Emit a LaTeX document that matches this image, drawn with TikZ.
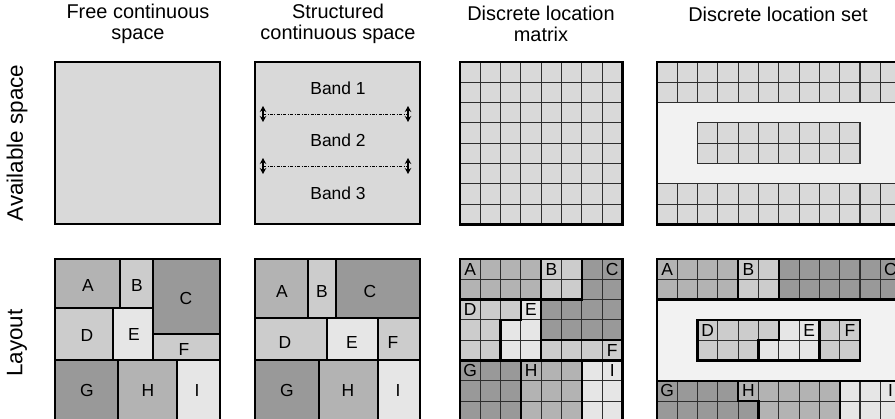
\documentclass[tikz,border=0pt]{standalone}
\usepackage{fontspec}
\setmainfont{Liberation Sans}
\usetikzlibrary{arrows.meta}
\definecolor{bg}{HTML}{D9D9D9}
\definecolor{pale}{HTML}{F2F2F2}
\definecolor{dk}{HTML}{999999}
\definecolor{md}{HTML}{B3B3B3}
\definecolor{lt}{HTML}{CCCCCC}
\definecolor{vl}{HTML}{E6E6E6}
\definecolor{gridc}{HTML}{2E2E2E}
\begin{document}
\begin{tikzpicture}[x=1bp,y=-1bp,
  hdr/.style={font=\fontsize{20}{20.5}\selectfont, align=center, inner sep=0pt},
  side/.style={font=\fontsize{22.5}{22.5}\selectfont, rotate=90, inner sep=0pt},
  lbl/.style={font=\fontsize{17.5}{17.5}\selectfont, inner sep=0pt},
  frame/.style={draw=black, line width=2.6bp},
  thinline/.style={draw=gridc, line width=1.15bp},
  region/.style={draw=black, line width=2.3bp, line join=miter},
  bandline/.style={draw=black, line width=0.8bp, dash pattern=on 3bp off 1.5bp on 0.8bp off 1.5bp},
  bandarrow/.style={draw=black, line width=1.2bp, {Stealth[length=6bp,width=6.5bp]}-{Stealth[length=6bp,width=6.5bp]}}
]
\useasboundingbox (0,0) rectangle (895,418);
\clip (0,0) rectangle (895,418);

% headers
\node[hdr] (h1) at (138,24) {Free continuous\\space};
\node[hdr] (h2) at (338,24) {Structured\\continuous space};
\node[hdr] (h3) at (541,24) {Discrete location\\matrix};
\node[hdr] (h4) at (778,14) {Discrete location set};
\node[side] (s1) at (17,143) {Available space};
\node[side] (s2) at (17,343) {Layout};

% ---------- top row ----------
% panel 1
\fill[bg] (55,62) rectangle (220,224);
\draw[frame] (55,62) rectangle (220,224);

% panel 2
\fill[bg] (255,62) rectangle (420,224);
\draw[frame] (255,62) rectangle (420,224);
\node[lbl] (band1) at (338,88) {Band 1};
\node[lbl] (band2) at (338,140) {Band 2};
\node[lbl] (band3) at (338,193) {Band 3};
\coordinate (d1l) at (263,114); \coordinate (d1r) at (408,114);
\coordinate (d2l) at (263,166); \coordinate (d2r) at (408,166);
\draw[bandline] (d1l) -- (d1r);
\draw[bandline] (d2l) -- (d2r);
\foreach \c in {d1l,d1r,d2l,d2r}{
  \draw[bandarrow] ([yshift=8bp]\c) -- ([yshift=-8bp]\c);
}

% panel 3
\begin{scope}[shift={(460,62)}, x=20.3bp, y=-20.3bp]
  \fill[bg] (0,0) rectangle (8,8);
  \foreach \i in {1,...,7}{
    \draw[thinline] (\i,0) -- (\i,8);
    \draw[thinline] (0,\i) -- (8,\i);
  }
  \draw[frame] (0,0) rectangle (8,8);
\end{scope}

% panel 4
\begin{scope}[shift={(657,62)}, x=20.3bp, y=-20.3bp]
  \fill[bg] (0,0) rectangle (12,2);
  \fill[pale] (0,2) rectangle (12,6);
  \fill[bg] (0,6) rectangle (12,8);
  \fill[bg] (2,3) rectangle (10,5);
  \foreach \i in {1,...,11}{
    \draw[thinline] (\i,0) -- (\i,2);
    \draw[thinline] (\i,6) -- (\i,8);
  }
  \foreach \i in {3,...,9}{
    \draw[thinline] (\i,3) -- (\i,5);
  }
  \draw[thinline] (0,1) -- (12,1);
  \draw[thinline] (0,2) -- (12,2);
  \draw[thinline] (0,6) -- (12,6);
  \draw[thinline] (0,7) -- (12,7);
  \draw[thinline] (2,4) -- (10,4);
  \draw[thinline] (2,3) rectangle (10,5);
  \draw[frame] (0,0) rectangle (12,8);
\end{scope}

% ---------- bottom row ----------
% layout 1
\filldraw[fill=md, region] (55,259) rectangle (120,308);
\filldraw[fill=lt, region] (120,259) rectangle (153,308);
\filldraw[fill=dk, region] (153,259) rectangle (220,334);
\filldraw[fill=lt, region] (55,308) rectangle (113,360);
\filldraw[fill=vl, region] (113,308) rectangle (153,360);
\filldraw[fill=lt, region] (153,334) rectangle (220,360);
\filldraw[fill=dk, region] (55,360) rectangle (118,421);
\filldraw[fill=md, region] (118,360) rectangle (177,421);
\filldraw[fill=vl, region] (177,360) rectangle (220,421);
\node[lbl] (a1) at (88,285) {A};
\node[lbl] (b1) at (137,285) {B};
\node[lbl] (c1) at (186,298) {C};
\node[lbl] (dd1) at (87,335) {D};
\node[lbl] (e1) at (134,334) {E};
\node[lbl] (f1) at (184,349) {F};
\node[lbl] (g1) at (87,390) {G};
\node[lbl] (hh1) at (148,390) {H};
\node[lbl] (i1) at (197,390) {I};

% layout 2
\filldraw[fill=md, region] (255,259) rectangle (308,318);
\filldraw[fill=lt, region] (308,259) rectangle (336,318);
\filldraw[fill=dk, region] (336,259) rectangle (420,318);
\filldraw[fill=lt, region] (255,318) rectangle (327,360);
\filldraw[fill=vl, region] (327,318) rectangle (378,360);
\filldraw[fill=lt, region] (378,318) rectangle (420,360);
\filldraw[fill=dk, region] (255,360) rectangle (319,421);
\filldraw[fill=md, region] (319,360) rectangle (378,421);
\filldraw[fill=vl, region] (378,360) rectangle (420,421);
\node[lbl] (a2) at (282,291) {A};
\node[lbl] (b2) at (322,291) {B};
\node[lbl] (c2) at (370,291) {C};
\node[lbl] (dd2) at (285,342) {D};
\node[lbl] (e2) at (352,342) {E};
\node[lbl] (f2) at (393,342) {F};
\node[lbl] (g2) at (287,390) {G};
\node[lbl] (hh2) at (348,390) {H};
\node[lbl] (i2) at (398,390) {I};

% layout 3
\begin{scope}[shift={(460,259)}, x=20.3bp, y=-20.3bp]
  \fill[md] (0,0) rectangle (4,2);
  \fill[lt] (4,0) rectangle (6,2);
  \fill[dk] (6,0) -- (8,0) -- (8,4) -- (4,4) -- (4,2) -- (6,2) -- cycle;
  \fill[lt] (0,2) -- (3,2) -- (3,3) -- (2,3) -- (2,5) -- (0,5) -- cycle;
  \fill[vl] (3,2) -- (4,2) -- (4,5) -- (2,5) -- (2,3) -- (3,3) -- cycle;
  \fill[lt] (4,4) rectangle (8,5);
  \fill[dk] (0,5) rectangle (3,8);
  \fill[md] (3,5) rectangle (6,8);
  \fill[vl] (6,5) rectangle (8,8);
  \foreach \i in {1,...,7}{
    \draw[thinline] (\i,0) -- (\i,8);
    \draw[thinline] (0,\i) -- (8,\i);
  }
  \draw[region] (0,0) rectangle (4,2);
  \draw[region] (4,0) rectangle (6,2);
  \draw[region] (6,0) -- (8,0) -- (8,4) -- (4,4) -- (4,2) -- (6,2) -- cycle;
  \draw[region] (0,2) -- (3,2) -- (3,3) -- (2,3) -- (2,5) -- (0,5) -- cycle;
  \draw[region] (3,2) -- (4,2) -- (4,5) -- (2,5) -- (2,3) -- (3,3) -- cycle;
  \draw[region] (4,4) rectangle (8,5);
  \draw[region] (0,5) rectangle (3,8);
  \draw[region] (3,5) rectangle (6,8);
  \draw[region] (6,5) rectangle (8,8);
  \draw[frame] (0,0) rectangle (8,8);
  \node[lbl] (a3) at (0.5,0.5) {A};
  \node[lbl] (b3) at (4.5,0.5) {B};
  \node[lbl] (c3) at (7.5,0.5) {C};
  \node[lbl] (dd3) at (0.5,2.5) {D};
  \node[lbl] (e3) at (3.5,2.5) {E};
  \node[lbl] (f3) at (7.5,4.5) {F};
  \node[lbl] (g3) at (0.5,5.5) {G};
  \node[lbl] (hh3) at (3.5,5.5) {H};
  \node[lbl] (i3) at (7.5,5.5) {I};
\end{scope}

% layout 4
\begin{scope}[shift={(657,259)}, x=20.3bp, y=-20.3bp]
  \fill[pale] (0,2) rectangle (12,6);
  \fill[md] (0,0) rectangle (4,2);
  \fill[lt] (4,0) rectangle (6,2);
  \fill[dk] (6,0) rectangle (12,2);
  \fill[lt] (2,3) -- (6,3) -- (6,4) -- (5,4) -- (5,5) -- (2,5) -- cycle;
  \fill[vl] (6,3) -- (8,3) -- (8,5) -- (5,5) -- (5,4) -- (6,4) -- cycle;
  \fill[lt] (8,3) rectangle (10,5);
  \fill[dk] (0,6) -- (4,6) -- (4,7) -- (5,7) -- (5,8) -- (0,8) -- cycle;
  \fill[md] (4,6) -- (9,6) -- (9,8) -- (5,8) -- (5,7) -- (4,7) -- cycle;
  \fill[vl] (9,6) rectangle (12,8);
  \foreach \i in {1,...,11}{
    \draw[thinline] (\i,0) -- (\i,2);
    \draw[thinline] (\i,6) -- (\i,8);
  }
  \foreach \i in {3,...,9}{
    \draw[thinline] (\i,3) -- (\i,5);
  }
  \draw[thinline] (0,1) -- (12,1);
  \draw[thinline] (0,7) -- (12,7);
  \draw[thinline] (2,4) -- (10,4);
  \draw[region] (0,0) rectangle (4,2);
  \draw[region] (4,0) rectangle (6,2);
  \draw[region] (6,0) rectangle (12,2);
  \draw[region] (2,3) -- (6,3) -- (6,4) -- (5,4) -- (5,5) -- (2,5) -- cycle;
  \draw[region] (6,3) -- (8,3) -- (8,5) -- (5,5) -- (5,4) -- (6,4) -- cycle;
  \draw[region] (8,3) rectangle (10,5);
  \draw[region] (0,6) -- (4,6) -- (4,7) -- (5,7) -- (5,8) -- (0,8) -- cycle;
  \draw[region] (4,6) -- (9,6) -- (9,8) -- (5,8) -- (5,7) -- (4,7) -- cycle;
  \draw[region] (9,6) rectangle (12,8);
  \draw[frame] (0,0) rectangle (12,8);
  \node[lbl] (a4) at (0.5,0.5) {A};
  \node[lbl] (b4) at (4.5,0.5) {B};
  \node[lbl] (c4) at (11.5,0.5) {C};
  \node[lbl] (dd4) at (2.5,3.5) {D};
  \node[lbl] (e4) at (7.5,3.5) {E};
  \node[lbl] (f4) at (9.5,3.5) {F};
  \node[lbl] (g4) at (0.5,6.5) {G};
  \node[lbl] (hh4) at (4.5,6.5) {H};
  \node[lbl] (i4) at (11.5,6.5) {I};
\end{scope}
\end{tikzpicture}
\end{document}
